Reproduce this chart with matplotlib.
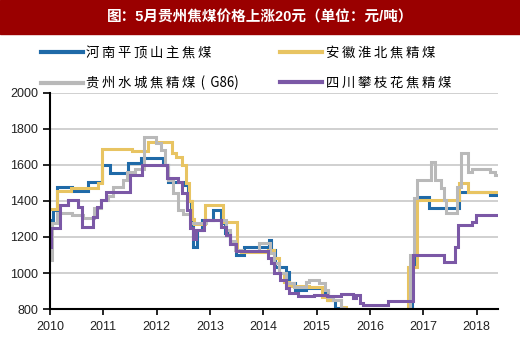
import matplotlib
matplotlib.use("Agg")
import matplotlib.pyplot as plt
from matplotlib.patches import Rectangle

plt.rcParams['font.family'] = ['Liberation Sans', 'Noto Sans CJK SC', 'DejaVu Sans']

TS = "\u2009"
title = "图：5月贵州焦煤价格上涨20元（单位：元/吨）"
names = [TS.join("河南平顶山主焦煤"), TS.join("安徽淮北焦精煤"),
         TS.join("贵州水城焦精煤") + TS + TS + "(" + TS + TS + "G86)", TS.join("四川攀枝花焦精煤")]
colors = ["#1f6aa8", "#e8c462", "#b9b9b9", "#7b58a6"]

henan_t = [2010.0, 2010.05, 2010.14, 2010.41, 2010.71, 2010.97, 2011.13, 2011.47, 2011.7, 2012.12, 2012.22,
           2012.5, 2012.58, 2012.64, 2012.69, 2012.76, 2012.85, 2013.05, 2013.2, 2013.28, 2013.38, 2013.48,
           2013.64, 2014.1, 2014.14, 2014.22, 2014.42, 2014.48, 2014.6, 2014.8, 2015.12, 2015.22, 2015.35,
           2015.42, 2016.7, 2016.78, 2016.85, 2016.92, 2017.1, 2017.66, 2018.25, 2018.43]
henan_v = [1295, 1350, 1476, 1457, 1507, 1600, 1554, 1613, 1637, 1600, 1507,
           1490, 1400, 1300, 1146, 1239, 1294, 1350, 1278, 1222, 1167, 1100,
           1146, 1183, 1128, 1035, 1007, 944, 906, 915, 895, 850, 806,
           760, 760, 1050, 1405, 1422, 1361, 1452, 1433, 1433]

anhui_t = [2010.0, 2010.14, 2010.4, 2010.9, 2010.97, 2011.53, 2011.62, 2011.84, 2012.28, 2012.36, 2012.47,
           2012.55, 2012.6, 2012.66, 2012.7, 2012.9, 2013.24, 2013.5, 2013.58, 2014.08, 2014.2, 2014.3,
           2014.38, 2014.48, 2014.85, 2015.1, 2015.2, 2015.45, 2015.55, 2016.68, 2016.72, 2016.88,
           2017.66, 2017.84, 2018.43]
anhui_v = [1356, 1456, 1470, 1500, 1687, 1675, 1680, 1730, 1667, 1646, 1600,
           1500, 1400, 1300, 1272, 1378, 1285, 1128, 1115, 1128, 1083, 1000,
           950, 925, 922, 867, 850, 810, 760, 760, 1033, 1405,
           1502, 1452, 1452]

guizhou_t = [2010.0, 2010.03, 2010.14, 2010.41, 2010.62, 2010.83, 2010.95, 2011.08, 2011.18, 2011.36, 2011.45,
             2011.6, 2011.76, 2011.98, 2012.08, 2012.15, 2012.22, 2012.3, 2012.4, 2012.5, 2012.62, 2012.92,
             2013.3, 2013.38, 2013.46, 2013.6, 2013.92, 2014.12, 2014.2, 2014.3, 2014.42, 2014.58, 2014.8,
             2014.85, 2015.05, 2015.15, 2015.22, 2015.3, 2015.45, 2015.52, 2016.7, 2016.75, 2016.83, 2016.88,
             2017.15, 2017.22, 2017.33, 2017.38, 2017.43, 2017.64, 2017.7, 2017.84, 2017.92, 2018.25, 2018.35,
             2018.43]
guizhou_v = [1072, 1278, 1331, 1320, 1305, 1361, 1405, 1430, 1480, 1517, 1563,
             1577, 1757, 1720, 1683, 1600, 1517, 1444, 1350, 1330, 1278, 1295,
             1240, 1176, 1130, 1120, 1165, 1111, 1055, 1000, 944, 922, 952,
             961, 944, 906, 867, 850, 806, 760, 760, 1100, 1417, 1517,
             1618, 1517, 1472, 1405, 1333, 1480, 1665, 1563, 1577, 1563, 1546,
             1546]

sichuan_t = [2010.0, 2010.02, 2010.19, 2010.33, 2010.52, 2010.6, 2010.8, 2010.88, 2010.95, 2011.05, 2011.5,
             2011.72, 2012.2, 2012.4, 2012.48, 2012.56, 2012.62, 2012.68, 2012.74, 2012.88, 2013.2, 2013.3,
             2013.38, 2013.48, 2014.08, 2014.14, 2014.2, 2014.32, 2014.42, 2014.48, 2014.65, 2014.95, 2015.2,
             2015.45, 2015.68, 2015.74, 2015.82, 2015.86, 2016.33, 2016.8, 2017.38, 2017.6, 2017.65, 2017.92,
             2017.98, 2018.43]
sichuan_v = [1146, 1250, 1378, 1405, 1369, 1257, 1313, 1369, 1405, 1452, 1544,
             1600, 1526, 1507, 1444, 1350, 1250, 1190, 1240, 1294, 1257, 1210,
             1160, 1120, 1083, 1055, 1000, 963, 915, 889, 870, 880, 870,
             883, 861, 880, 833, 822, 846, 1100, 1063, 1146, 1267, 1285,
             1322, 1322]

series_t = [henan_t, anhui_t, guizhou_t, sichuan_t]
series_v = [henan_v, anhui_v, guizhou_v, sichuan_v]
years = list(range(2010, 2019))
yticks = [800, 1000, 1200, 1400, 1600, 1800, 2000]

W, H = 520, 343
fig = plt.figure(figsize=(W / 100, H / 100), dpi=100)
fig.add_artist(Rectangle((0, 1 - 34 / H), 1, 34 / H, transform=fig.transFigure,
                         color="#9a0000", zorder=0))
fig.text(0.5, 1 - 17 / H, title, color="white", fontsize=10.5, fontweight="bold",
         ha="center", va="center")

ax = fig.add_axes([50 / W, 1 - 309 / H, (498 - 50) / W, (309 - 93) / H])
handles = []
for t, v, c, n in zip(series_t, series_v, colors, names):
    h, = ax.plot(t, v, drawstyle="steps-post", color=c, lw=2.2, label=n, solid_joinstyle="miter")
    handles.append(h)

ax.set_xlim(2010, 2018.4)
ax.set_ylim(800, 2000)
ax.set_xticks(years)
ax.set_xticklabels([str(y) for y in years])
ax.set_yticks(yticks)
ax.grid(axis="y", color="#c4c4c4", lw=1.1)
ax.set_axisbelow(True)
for s in ["top", "right"]:
    ax.spines[s].set_visible(False)
for s in ["left", "bottom"]:
    ax.spines[s].set_linewidth(1.5)
    ax.spines[s].set_color("black")
ax.tick_params(axis="both", labelsize=9, colors="black", width=1.2, labelcolor="#222222")
ax.tick_params(axis="y", length=5)
ax.tick_params(axis="x", length=4, pad=5)

order = [0, 2, 1, 3]
leg = fig.legend([handles[i] for i in order], [names[i] for i in order],
                 loc="upper left", bbox_to_anchor=(29 / W, 1 - 34 / H), ncol=2,
                 frameon=False, handlelength=3.15, handletextpad=0.25,
                 columnspacing=3.1, labelspacing=1.2,
                 prop={"family": ["Noto Sans CJK SC", "DejaVu Sans"], "size": 9.6})
for line in leg.get_lines():
    line.set_linewidth(3)

fig.savefig("out.png", dpi=100)
